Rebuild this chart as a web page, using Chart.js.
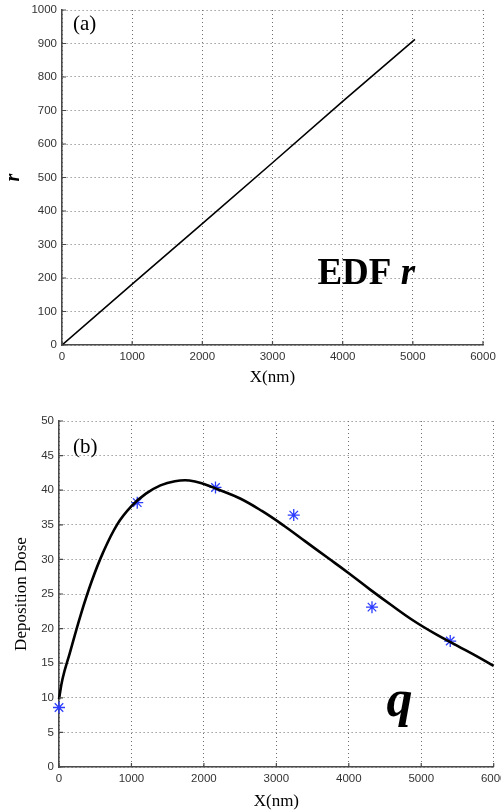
<!DOCTYPE html>
<html>
<head>
<meta charset="utf-8">
<script src="https://cdn.jsdelivr.net/npm/chart.js@4/dist/chart.umd.min.js"></script>
<style>
    html, body { margin: 0; padding: 0; background: #fff; }
    body { width: 501px; height: 812px; overflow: hidden; position: relative; }
    canvas { position: absolute; left: 0; }
    #chart-a { top: 0; }
    #chart-b { top: 400px; }
</style>
</head>
<body>
<canvas id="chart-a" width="501" height="395"></canvas>
<canvas id="chart-b" width="501" height="412"></canvas>
<script>
// ---------------------------------------------------------------------------
// Data
// ---------------------------------------------------------------------------

// (a) EDF r against X
const edfX = [0, 1000, 2000, 3000, 4000, 5030];
const edfR = [0, 182, 362, 544, 727, 912];

// (b) fitted deposition dose curve q
const doseCurveX = [0, 50, 150, 300, 450, 600, 800, 1000, 1200, 1400, 1600, 1800, 2000, 2200, 2500, 2800, 3100, 3400, 3700, 4000, 4300, 4600, 4900, 5200, 5500, 5800, 6000];
const doseCurveY = [9.8, 12.8, 16.5, 22, 26.8, 30.8, 35, 37.7, 39.5, 40.7, 41.3, 41.4, 40.9, 40.1, 38.8, 37, 34.9, 32.6, 30.3, 28, 25.6, 23.3, 21.1, 19.2, 17.5, 15.8, 14.6];

// (b) measured dose samples (blue stars)
const doseSampleX = [0, 1080, 2160, 3240, 4320, 5400];
const doseSampleY = [8.6, 38.2, 40.4, 36.4, 23.1, 18.2];

// axis ticks
const xTickStep = 1000;
const rTickStep = 100;
const doseTickStep = 5;

// ---------------------------------------------------------------------------
// Shared look (MATLAB style axes)
// ---------------------------------------------------------------------------
const TICK_FONT  = { family: "'Liberation Sans', Arial, sans-serif", size: 11.5 };
const TICK_COLOR = "#333";
const AXIS_COLOR = "#4a4a4a";
const GRID_COLOR = "#707070";
const SERIF      = "'Liberation Serif', 'Times New Roman', serif";

function toPoints(xs, ys) {
    return xs.map((x, i) => ({ x: x, y: ys[i] }));
}

// fixed box sizes so the plot areas land where the reference has them
function fixWidth(w) {
    return (scale) => { scale.width = w; scale.paddingTop = 0; scale.paddingBottom = 0; };
}
function fixHeight(h) {
    return (scale) => { scale.height = h; scale.paddingLeft = 0; scale.paddingRight = 0; };
}

function axisScale(min, max, step, extra) {
    return Object.assign({
        type: "linear",
        min: min,
        max: max,
        ticks: {
            stepSize: step, font: TICK_FONT, color: TICK_COLOR, padding: 5, maxRotation: 0,
            callback: (v) => String(v),   // plain numbers, no thousands separator
        },
        grid: { color: GRID_COLOR, lineWidth: 1, drawTicks: false },
        border: { display: true, color: AXIS_COLOR, width: 1.6, dash: [1, 3] },
    }, extra);
}

// short inward tick marks + free text labels placed in data units
const matlabDecor = {
    id: "matlabDecor",
    afterDraw(chart, args, opts) {
        const ctx = chart.ctx;
        const xs = chart.scales.x, ys = chart.scales.y;
        const area = chart.chartArea;
        ctx.save();
        ctx.strokeStyle = AXIS_COLOR;
        ctx.lineWidth = 1.2;
        ctx.beginPath();
        xs.ticks.forEach((t) => {
            const px = xs.getPixelForValue(t.value);
            ctx.moveTo(px, area.bottom);
            ctx.lineTo(px, area.bottom - 4);
        });
        ys.ticks.forEach((t) => {
            const py = ys.getPixelForValue(t.value);
            ctx.moveTo(area.left, py);
            ctx.lineTo(area.left + 4, py);
        });
        ctx.stroke();

        ctx.fillStyle = "#000";
        ctx.textBaseline = "alphabetic";
        ctx.textAlign = "left";
        (opts.labels || []).forEach((lab) => {
            let px = xs.getPixelForValue(lab.x);
            const py = ys.getPixelForValue(lab.y);
            lab.parts.forEach((part) => {
                ctx.font = part.font;
                ctx.fillText(part.text, px, py);
                px += ctx.measureText(part.text).width;
            });
        });
        ctx.restore();
    },
};

// ---------------------------------------------------------------------------
// (a) EDF r
// ---------------------------------------------------------------------------
new Chart(document.getElementById("chart-a").getContext("2d"), {
    type: "line",
    data: {
        datasets: [{
            data: toPoints(edfX, edfR),
            borderColor: "#000",
            borderWidth: 1.6,
            pointRadius: 0,
            tension: 0,
        }],
    },
    options: {
        responsive: false,
        animation: false,
        layout: { padding: { top: 10, right: 18, left: 0, bottom: 0 } },
        plugins: {
            legend: { display: false },
            tooltip: { enabled: false },
            matlabDecor: {
                labels: [
                    { x: 157, y: 940, parts: [{ text: "(a)", font: "21px " + SERIF }] },
                    { x: 3640, y: 182, parts: [
                        { text: "EDF ", font: "bold 37px " + SERIF },
                        { text: "r", font: "italic bold 37px " + SERIF },
                    ] },
                ],
            },
        },
        scales: {
            x: axisScale(0, 6000, xTickStep, {
                afterFit: fixHeight(50),
                title: { display: true, text: "X(nm)", color: "#000",
                         font: { family: SERIF, size: 17 }, padding: { top: 0, bottom: 7 } },
            }),
            y: axisScale(0, 1000, rTickStep, {
                afterFit: fixWidth(62),
                title: { display: true, text: "r", color: "#000",
                         font: { family: SERIF, size: 20, style: "italic", weight: "bold" },
                         padding: { top: 2, bottom: 0 } },
            }),
        },
    },
    plugins: [matlabDecor],
});

// ---------------------------------------------------------------------------
// (b) Deposition dose q
// ---------------------------------------------------------------------------
new Chart(document.getElementById("chart-b").getContext("2d"), {
    type: "line",
    data: {
        datasets: [
            {
                data: toPoints(doseCurveX, doseCurveY),
                borderColor: "#000",
                borderWidth: 2.6,
                pointRadius: 0,
                tension: 0.4,
            },
            {
                data: toPoints(doseSampleX, doseSampleY),
                showLine: false,
                pointStyle: "star",
                pointRadius: 6,
                borderColor: "#2b3cff",
                backgroundColor: "#2b3cff",
                pointBorderWidth: 1.3,
            },
        ],
    },
    options: {
        responsive: false,
        animation: false,
        clip: false,
        layout: { padding: { top: 21, right: 4, left: 0, bottom: 0 } },
        plugins: {
            legend: { display: false },
            tooltip: { enabled: false },
            matlabDecor: {
                labels: [
                    { x: 192, y: 45.4, parts: [{ text: "(b)", font: "21px " + SERIF }] },
                    { x: 4520, y: 7.3, parts: [{ text: "q", font: "italic bold 52px " + SERIF }] },
                ],
            },
        },
        scales: {
            x: axisScale(0, 6000, xTickStep, {
                afterFit: fixHeight(45),
                title: { display: true, text: "X(nm)", color: "#000",
                         font: { family: SERIF, size: 17 }, padding: { top: 0, bottom: 0 } },
            }),
            y: axisScale(0, 50, doseTickStep, {
                afterFit: fixWidth(59),
                title: { display: true, text: "Deposition Dose", color: "#000",
                         font: { family: SERIF, size: 17 }, padding: { top: 11, bottom: 0 } },
            }),
        },
    },
    plugins: [matlabDecor],
});
</script>
</body>
</html>
